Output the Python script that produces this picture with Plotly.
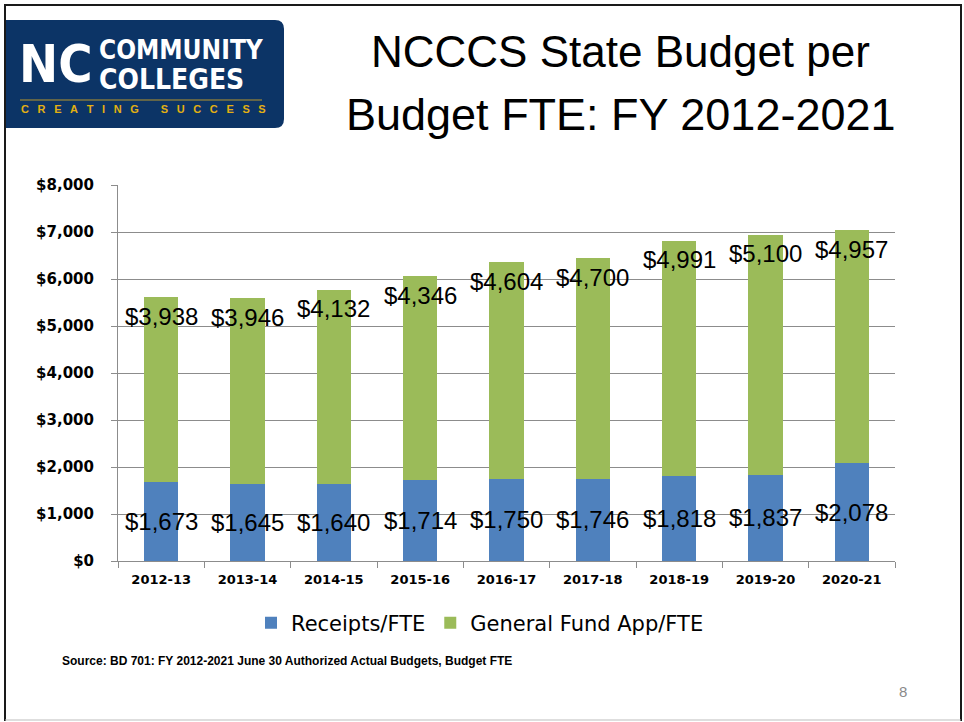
import plotly.graph_objects as go

# Fiscal years and per-FTE amounts (dollars)
years = ["2012-13", "2013-14", "2014-15", "2015-16", "2016-17",
         "2017-18", "2018-19", "2019-20", "2020-21"]
receipts_per_fte = [1673, 1645, 1640, 1714, 1750, 1746, 1818, 1837, 2078]
general_fund_per_fte = [3938, 3946, 4132, 4346, 4604, 4700, 4991, 5100, 4957]
y_ticks = [0, 1000, 2000, 3000, 4000, 5000, 6000, 7000, 8000]
y_tick_labels = ["$0", "$1,000", "$2,000", "$3,000", "$4,000",
                 "$5,000", "$6,000", "$7,000", "$8,000"]

W, H = 964, 722
L, R, T, B = 118, 895, 185, 561  # plot area in pixels

BLUE = "#4f81bd"
GREEN = "#9bbb59"
NAVY = "#0c3466"
GOLD = "#e3b012"
GRID = "#8c8c8c"


def px(x):
    return (x - L) / (R - L)


def py(y):
    return (B - y) / (B - T)


fig = go.Figure()
fig.add_bar(x=years, y=receipts_per_fte, name="Receipts/FTE",
            marker=dict(color=BLUE, line=dict(width=0)))
fig.add_bar(x=years, y=general_fund_per_fte, name="General Fund App/FTE",
            marker=dict(color=GREEN, line=dict(width=0)))

annotations = []
label_font = dict(family="Liberation Sans, Arial", size=24, color="black")
for yr, r, g in zip(years, receipts_per_fte, general_fund_per_fte):
    annotations.append(dict(x=yr, y=r / 2, xref="x", yref="y", text=f"${r:,}",
                            showarrow=False, font=label_font,
                            xanchor="center", yanchor="middle"))
    annotations.append(dict(x=yr, y=r + g, xref="x", yref="y", text=f"${g:,}",
                            showarrow=False, font=label_font,
                            xanchor="center", yanchor="middle", yshift=-19))

# Slide title
title_font = dict(family="Liberation Sans, Arial", size=44, color="black")
annotations.append(dict(x=px(620), y=py(52), xref="paper", yref="paper",
                        text="NCCCS State Budget per", showarrow=False,
                        font=title_font, xanchor="center", yanchor="middle"))
annotations.append(dict(x=px(621), y=py(114), xref="paper", yref="paper",
                        text="Budget FTE: FY 2012-2021", showarrow=False,
                        font=dict(family="Liberation Sans, Arial", size=45, color="black"),
                        xanchor="center", yanchor="middle"))

# Logo text
narrow = "DejaVu Sans Condensed, Liberation Sans Narrow, sans-serif"
annotations.append(dict(x=px(17), y=py(64), xref="paper", yref="paper",
                        text="<b>NC</b>", showarrow=False,
                        font=dict(family=narrow, size=52, color="white"),
                        xanchor="left", yanchor="middle"))
annotations.append(dict(x=px(97), y=py(50), xref="paper", yref="paper",
                        text="<b>COMMUNITY</b>", showarrow=False,
                        font=dict(family=narrow, size=26, color="white"),
                        xanchor="left", yanchor="middle"))
annotations.append(dict(x=px(97), y=py(79), xref="paper", yref="paper",
                        text="<b>COLLEGES</b>", showarrow=False,
                        font=dict(family=narrow, size=28, color="white"),
                        xanchor="left", yanchor="middle"))
sp = "\u2002\u2009\u200a"
tagline = sp.join("CREATING") + "\u2003\u2003" + sp.join("SUCCESS")
annotations.append(dict(x=px(19), y=py(109), xref="paper", yref="paper",
                        text="<b>" + tagline + "</b>", showarrow=False,
                        font=dict(family="Liberation Sans, Arial", size=11, color=GOLD),
                        xanchor="left", yanchor="middle"))

# Source note and page number
annotations.append(dict(x=px(60), y=py(661), xref="paper", yref="paper",
                        text="<b>Source: BD 701: FY 2012-2021 June 30 Authorized Actual Budgets, Budget FTE</b>",
                        showarrow=False,
                        font=dict(family="Liberation Sans, Arial", size=12, color="black"),
                        xanchor="left", yanchor="middle"))
annotations.append(dict(x=px(903), y=py(691), xref="paper", yref="paper",
                        text="8", showarrow=False,
                        font=dict(family="Liberation Sans, Arial", size=15, color="#8a8a8a"),
                        xanchor="center", yanchor="middle"))

shapes = []
# Logo background with rounded right corners
r = 9
x0, x1, y0, y1 = 5, 284, 20, 128
path = (f"M {px(x0)},{py(y0)} L {px(x1 - r)},{py(y0)} "
        f"Q {px(x1)},{py(y0)} {px(x1)},{py(y0 + r)} "
        f"L {px(x1)},{py(y1 - r)} Q {px(x1)},{py(y1)} {px(x1 - r)},{py(y1)} "
        f"L {px(x0)},{py(y1)} Z")
shapes.append(dict(type="path", xref="paper", yref="paper", path=path,
                   fillcolor=NAVY, line=dict(width=0), layer="above"))
shapes.append(dict(type="line", xref="paper", yref="paper",
                   x0=px(20), x1=px(262), y0=py(100), y1=py(100),
                   line=dict(color="#b8962a", width=1)))
# Slide frame
shapes.append(dict(type="path", xref="paper", yref="paper",
                   path=f"M {px(5)},{py(721)} L {px(5)},{py(5)} L {px(961)},{py(5)} L {px(961)},{py(721)}",
                   line=dict(color="#1a1a1a", width=2)))
shapes.append(dict(type="line", xref="paper", yref="paper",
                   x0=px(5), x1=px(961), y0=py(720), y1=py(720),
                   line=dict(color="#bdbdbd", width=1)))

fig.update_layout(
    width=W, height=H,
    margin=dict(l=L, r=W - R, t=T, b=H - B, pad=0),
    paper_bgcolor="white", plot_bgcolor="white",
    barmode="stack", bargap=0.6,
    showlegend=True,
    legend=dict(orientation="h", x=px(480), xanchor="center",
                y=py(623), yanchor="middle",
                font=dict(family="DejaVu Sans", size=21, color="black"),
                itemwidth=30, traceorder="normal", bgcolor="rgba(0,0,0,0)"),
    xaxis=dict(showline=True, linecolor=GRID, linewidth=1,
               ticks="outside", tickson="boundaries", ticklen=6, tickcolor=GRID,
               tickfont=dict(family="DejaVu Sans", size=13, color="black", weight="bold"),
               ticklabelstandoff=6, showgrid=False, fixedrange=True),
    yaxis=dict(range=[0, 8000], tickvals=y_ticks, ticktext=y_tick_labels,
               showline=True, linecolor=GRID, linewidth=1,
               ticks="outside", ticklen=6, tickcolor=GRID,
               showgrid=True, gridcolor=GRID, gridwidth=1, zeroline=False,
               tickfont=dict(family="DejaVu Sans", size=15, color="black", weight="bold"),
               ticklabelstandoff=14),
    annotations=annotations,
    shapes=shapes,
)

fig.write_html("out.html")
